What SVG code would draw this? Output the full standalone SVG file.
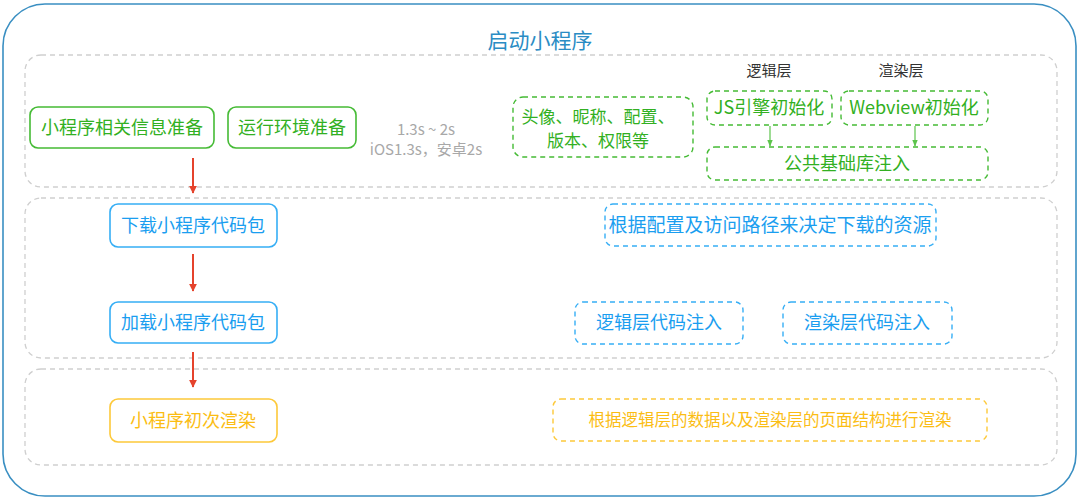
<svg xmlns="http://www.w3.org/2000/svg" width="1080" height="500" viewBox="0 0 1080 500">
<defs>
<style>
text{font-family:"Noto Sans CJK SC","Noto Sans",sans-serif;text-anchor:middle}
.sec{fill:none;stroke:#cfcfcf;stroke-width:1.3;stroke-dasharray:5 4}
.g{fill:#fff;stroke:#45bb35;stroke-width:1.6}
.gd{fill:#fff;stroke:#45bb35;stroke-width:1.4;stroke-dasharray:5 4}
.b{fill:#fff;stroke:#36aef5;stroke-width:1.6}
.bd{fill:#fff;stroke:#36aef5;stroke-width:1.4;stroke-dasharray:5 4}
.y{fill:#fff;stroke:#fdc93a;stroke-width:1.6}
.yd{fill:#fff;stroke:#fdc93a;stroke-width:1.4;stroke-dasharray:5 4}
.tg{fill:#32b022;font-size:18px}
.tb{fill:#1a9ef0;font-size:18px}
.ty{fill:#fbbd14;font-size:18px}
.gray{fill:#a8a8a8;font-size:15px}
.lbl{fill:#333;font-size:15px}
.red{stroke:#e5432c;stroke-width:2;fill:none}
.gl{stroke:#5cc44c;stroke-width:1.2;fill:none}
</style>
<marker id="ar" viewBox="0 0 10 10" refX="9" refY="5" markerWidth="4" markerHeight="4" orient="auto"><path d="M0,0 L10,5 L0,10 z" fill="#e5432c"/></marker>
<marker id="ag" viewBox="0 0 10 10" refX="9" refY="5" markerWidth="6" markerHeight="6" orient="auto"><path d="M0,1 L10,5 L0,9 z" fill="#5cc44c"/></marker>
</defs>
<rect id="frame" x="3" y="4" width="1073" height="492" rx="42" fill="#fff" stroke="#3a8fc2" stroke-width="1.6"/>
<text id="title" x="540" y="48" style="fill:#2a8cc4;font-size:21px">启动小程序</text>
<g id="sections">
<rect class="sec" x="25" y="55" width="1032" height="132" rx="16"/>
<rect class="sec" x="25" y="198" width="1032" height="160" rx="16"/>
<rect class="sec" x="25" y="369" width="1032" height="96" rx="16"/>
</g>
<g id="connectors">
<line class="red" x1="193" y1="158" x2="193" y2="193" marker-end="url(#ar)"/>
<line class="red" x1="193" y1="254" x2="193" y2="291" marker-end="url(#ar)"/>
<line class="red" x1="193" y1="352" x2="193" y2="387" marker-end="url(#ar)"/>
<line class="gl" x1="770" y1="126" x2="770" y2="146" marker-end="url(#ag)"/>
<line class="gl" x1="915" y1="126" x2="915" y2="146" marker-end="url(#ag)"/>
</g>
<g id="n-info"><rect class="g" x="30" y="107" width="184" height="41" rx="8"/><text class="tg" x="122" y="134">小程序相关信息准备</text></g>
<g id="n-env"><rect class="g" x="228" y="107" width="128" height="41" rx="8"/><text class="tg" x="292" y="134">运行环境准备</text></g>
<g id="n-time"><text class="gray" x="426" y="135">1.3s ~ 2s</text><text class="gray" x="426" y="155">iOS1.3s，安卓2s</text></g>
<g id="n-avatar"><rect class="gd" x="513" y="97" width="180" height="60" rx="10"/><text class="tg" x="598" y="123" style="font-size:17px">头像、昵称、配置、</text><text class="tg" x="598" y="147" style="font-size:17px">版本、权限等</text></g>
<g id="l-logic"><text class="lbl" x="769" y="76">逻辑层</text></g>
<g id="l-render"><text class="lbl" x="901" y="76">渲染层</text></g>
<g id="n-js"><rect class="gd" x="707" y="91" width="125" height="34" rx="8"/><text class="tg" x="769" y="114">JS引擎初始化</text></g>
<g id="n-webview"><rect class="gd" x="841" y="91" width="147" height="34" rx="8"/><text class="tg" x="914" y="114">Webview初始化</text></g>
<g id="n-base"><rect class="gd" x="707" y="147" width="281" height="33" rx="8"/><text class="tg" x="847" y="170">公共基础库注入</text></g>
<g id="n-download"><rect class="b" x="110" y="204" width="167" height="43" rx="8"/><text class="tb" x="193" y="232">下载小程序代码包</text></g>
<g id="n-res"><rect class="bd" x="605" y="204" width="331" height="42" rx="8"/><text class="tb" x="770" y="232" style="font-size:19px">根据配置及访问路径来决定下载的资源</text></g>
<g id="n-load"><rect class="b" x="110" y="302" width="167" height="41" rx="8"/><text class="tb" x="193" y="329">加载小程序代码包</text></g>
<g id="n-logic-inject"><rect class="bd" x="575" y="302" width="168" height="42" rx="8"/><text class="tb" x="659" y="329">逻辑层代码注入</text></g>
<g id="n-render-inject"><rect class="bd" x="783" y="302" width="169" height="42" rx="8"/><text class="tb" x="867" y="329">渲染层代码注入</text></g>
<g id="n-first"><rect class="y" x="110" y="399" width="167" height="43" rx="8"/><text class="ty" x="193" y="427">小程序初次渲染</text></g>
<g id="n-render-desc"><rect class="yd" x="553" y="399" width="434" height="42" rx="8"/><text class="ty" x="770" y="426" style="font-size:16.5px">根据逻辑层的数据以及渲染层的页面结构进行渲染</text></g>
</svg>
